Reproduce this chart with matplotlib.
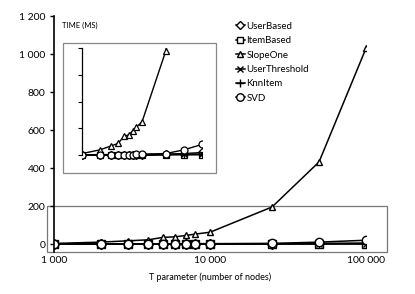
import matplotlib.pyplot as plt
from matplotlib.patches import Rectangle
from matplotlib.ticker import FixedLocator, FuncFormatter, NullLocator

plt.rcParams['font.family'] = ['Lato', 'DejaVu Sans']

# T parameter (number of nodes) and time in ms per algorithm
t_nodes = [1000, 2000, 3000, 4000, 5000, 6000, 7000, 8000, 10000, 25000, 50000, 100000]
user_based = [0, 1, 1, 1, 1, 1, 1, 1, 1, 2, 3, 5]
item_based = [0, 0, 0, 0, 0, 0, 0, 0, 0, 1, 1, 1]
slope_one = [3, 10, 17, 22, 35, 38, 45, 52, 62, 195, 432, 1030]
user_threshold = [0, 0, 0, 0, 0, 0, 0, 0, 0, 1, 2, 2]
knn_item = [0, 0, 0, 0, 0, 0, 0, 0, 0, 1, 1, 1]
svd = [1, 1, 1, 1, 1, 1, 1, 2, 2, 3, 10, 20]

series = [
    ("UserBased", user_based, "D"),
    ("ItemBased", item_based, "s"),
    ("SlopeOne", slope_one, "^"),
    ("UserThreshold", user_threshold, "x"),
    ("KnnItem", knn_item, "+"),
    ("SVD", svd, "o"),
]
y_ticks = [0, 200, 400, 600, 800, 1000, 1200]
x_ticks = [1000, 10000, 100000]


def spaced(v, pos=None):
    return "{:,}".format(int(v)).replace(",", " ")


W, H = 415, 294
fig = plt.figure(figsize=(W / 100, H / 100), dpi=100)

# main axes
ax = fig.add_axes([54 / W, 1 - 252 / H, 312 / W, 236 / H])
msize = {"D": 5.0, "s": 5.5, "^": 5.0, "x": 5.0, "+": 6.0, "o": 6.0}
for name, vals, m in series:
    ax.plot(t_nodes, vals, color="black", lw=1.1, marker=m, ms=msize[m],
            mfc="white", mec="black", mew=1.0, label=name)

ax.set_xscale("log")
ax.set_xlim(1000, 100000)
ax.set_ylim(-42, 1200)
ax.xaxis.set_major_locator(FixedLocator(x_ticks))
ax.xaxis.set_minor_locator(NullLocator())
ax.xaxis.set_major_formatter(FuncFormatter(spaced))
ax.yaxis.set_major_locator(FixedLocator(y_ticks))
ax.yaxis.set_major_formatter(FuncFormatter(spaced))
ax.tick_params(axis="y", length=3, width=1, direction="out", labelsize=7.5, pad=3)
ax.tick_params(axis="x", length=0, labelsize=7.5, pad=3)
for s in ["top", "right", "bottom"]:
    ax.spines[s].set_visible(False)
ax.spines["left"].set_linewidth(1.2)
ax.set_xlabel("T parameter (number of nodes)", fontsize=6.5, labelpad=5)

# zoom box around the 0-200 band
box = Rectangle((900, -42), 136000 - 900, 240, transform=ax.transData,
                fill=False, edgecolor="#777777", lw=0.9, clip_on=False, zorder=0)
ax.add_patch(box)

fig.text(62 / W, 1 - 25 / H, "TIME (MS)", fontsize=5.5, va="center", ha="left")

leg = ax.legend(loc="upper left", bbox_to_anchor=(232 / W, 1 - 18 / H),
                bbox_transform=fig.transFigure, frameon=False, fontsize=7,
                handlelength=0.9, handletextpad=0.2, labelspacing=0.55,
                borderaxespad=0, markerscale=0.9)

# inset frame and axes
frame = Rectangle((63 / W, 1 - 173 / H), 153 / W, 130 / H, transform=fig.transFigure,
                  facecolor="white", edgecolor="#888888", lw=0.9, zorder=2)
fig.patches.append(frame)

ins = fig.add_axes([82 / W, 1 - 160 / H, 120 / W, 112 / H])
ins.set_zorder(3)
ins.patch.set_alpha(0)
isize = {"D": 4.0, "s": 4.5, "^": 4.2, "x": 4.0, "+": 4.5, "o": 5.0}
for name, vals, m in series:
    ins.plot(t_nodes, vals, color="black", lw=1.0, marker=m, ms=isize[m],
             mfc="white", mec="black", mew=0.9)
ins.set_xscale("log")
ins.set_xlim(1000, 100000)
ins.set_ylim(-9, 200)
ins.yaxis.set_major_locator(FixedLocator([0, 50, 100, 150, 200]))
ins.xaxis.set_major_locator(NullLocator())
ins.xaxis.set_minor_locator(NullLocator())
ins.tick_params(axis="y", length=3, width=0.8, labelleft=False)
for s in ["top", "right", "bottom"]:
    ins.spines[s].set_visible(False)
ins.spines["left"].set_linewidth(0.9)
ins.spines["left"].set_bounds(0, 200)

fig.savefig("out.png", dpi=100)
